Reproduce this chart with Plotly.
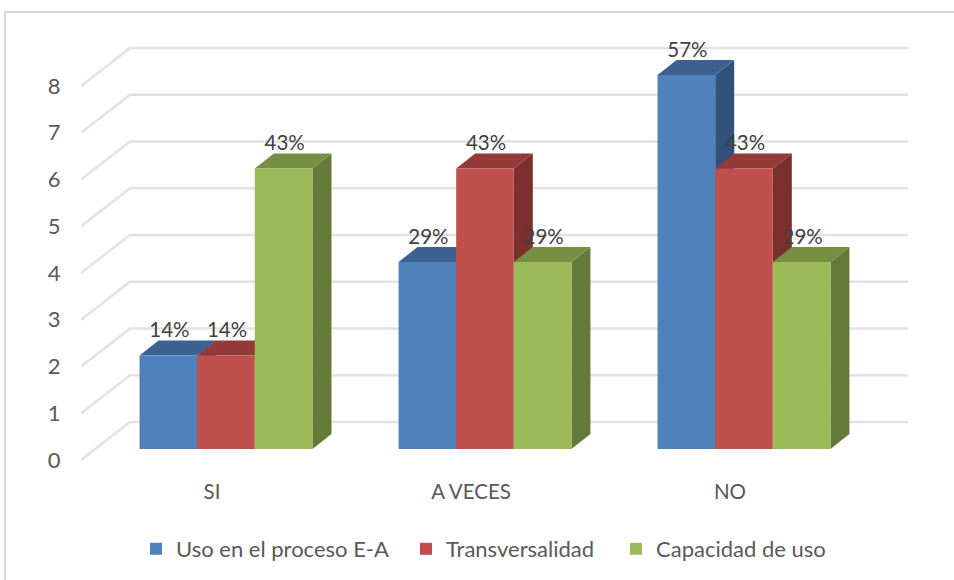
import plotly.graph_objects as go

categories = ["SI", "A VECES", "NO"]
series_names = ["Uso en el proceso E-A", "Transversalidad", "Capacidad de uso"]
uso_values = [2, 4, 8]
transversalidad_values = [2, 6, 6]
capacidad_values = [6, 4, 4]
uso_labels = ["14%", "29%", "57%"]
transversalidad_labels = ["14%", "43%", "43%"]
capacidad_labels = ["43%", "29%", "29%"]
y_ticks = [0, 1, 2, 3, 4, 5, 6, 7, 8]

values = [uso_values, transversalidad_values, capacidad_values]
labels = [uso_labels, transversalidad_labels, capacidad_labels]
front_colors = ["#4f81bd", "#c0504d", "#9bbb59"]
top_colors = ["#3b6291", "#943a38", "#778f43"]
side_colors = ["#30517b", "#7b302e", "#647a38"]

W, H = 954, 580
LEFT, RIGHT, TOP, BOTTOM = 81, 908, 30, 469
CAT_PX = 259.0
CAT0_PX = 226.0
UNIT_PX = 46.75
FLOOR_LABEL_PX = 460
FLOOR_BAR_PX = 449
BAR_UNITS = 0.2225
DEPTH_X = 19 / CAT_PX
DEPTH_Y = 15 / UNIT_PX
WALL_X = 49 / CAT_PX
WALL_Y = 38 / UNIT_PX
LABEL_SHIFT = 14 / CAT_PX
TEXT_FONT = "Lato"

x_lo = (LEFT - CAT0_PX) / CAT_PX
x_hi = (RIGHT - CAT0_PX) / CAT_PX
y1_range = [(FLOOR_LABEL_PX - BOTTOM) / UNIT_PX, (FLOOR_LABEL_PX - TOP) / UNIT_PX]
y2_range = [(FLOOR_BAR_PX - BOTTOM) / UNIT_PX, (FLOOR_BAR_PX - TOP) / UNIT_PX]
positions = list(range(len(categories)))

shapes = [dict(type="rect", xref="paper", yref="paper",
               x0=5 / W, x1=1.02, y0=-0.02, y1=1 - 12 / H,
               line=dict(color="#d9d9d9", width=2), layer="below")]

# Back wall grid and side-wall diagonals
for t in y_ticks:
    shapes.append(dict(
        type="path", xref="x", yref="y", layer="below",
        path=f"M {x_lo},{t} L {x_lo + WALL_X},{t + WALL_Y} L {x_hi},{t + WALL_Y}",
        line=dict(color="#e2e2e2", width=2.5)))

# Depth faces of each column, drawn behind the front faces
for c in positions:
    for s in range(len(values)):
        v = values[s][c]
        x0 = c + (s - 1.5) * BAR_UNITS
        x1 = x0 + BAR_UNITS
        shapes.append(dict(
            type="path", xref="x", yref="y2", layer="below",
            path=f"M {x1},0 L {x1 + DEPTH_X},{DEPTH_Y} L {x1 + DEPTH_X},{v + DEPTH_Y} L {x1},{v} Z",
            fillcolor=side_colors[s], line=dict(width=0)))
        shapes.append(dict(
            type="path", xref="x", yref="y2", layer="below",
            path=f"M {x0},{v} L {x0 + DEPTH_X},{v + DEPTH_Y} L {x1 + DEPTH_X},{v + DEPTH_Y} L {x1},{v} Z",
            fillcolor=top_colors[s], line=dict(width=0)))

fig = go.Figure()
legend_ids = ["legend", "legend2", "legend3"]
for s, name in enumerate(series_names):
    fig.add_trace(go.Bar(
        x=positions, y=values[s], name=name, yaxis="y2",
        marker=dict(color=front_colors[s], line=dict(width=0)),
        legend=legend_ids[s]))

# Data labels
for s in range(len(values)):
    fig.add_trace(go.Scatter(
        x=[c + (s - 1) * BAR_UNITS + 1 / CAT_PX for c in positions],
        y=[v + 23.5 / UNIT_PX for v in values[s]],
        text=labels[s], mode="text", textposition="middle center",
        textfont=dict(family=TEXT_FONT, size=20.5, color="#404040"),
        yaxis="y2", showlegend=False, hoverinfo="skip"))

legend_font = dict(family=TEXT_FONT, size=22, color="#595959")
legend_common = dict(orientation="h", yanchor="bottom", xanchor="left",
                     y=1 - 570 / H, font=legend_font,
                     bgcolor="rgba(0,0,0,0)", itemclick=False, itemdoubleclick=False)

fig.update_layout(
    width=W, height=H,
    margin=dict(l=0, r=0, t=0, b=0),
    paper_bgcolor="white", plot_bgcolor="rgba(0,0,0,0)",
    barmode="group", bargap=1 - 3 * BAR_UNITS, bargroupgap=0,
    shapes=shapes,
    showlegend=True,
    legend=dict(x=136 / W, **legend_common),
    legend2=dict(x=406 / W, **legend_common),
    legend3=dict(x=616 / W, **legend_common),
    xaxis=dict(domain=[LEFT / W, RIGHT / W], range=[x_lo, x_hi], automargin=False,
               tickmode="array", tickvals=[p - LABEL_SHIFT for p in positions], ticktext=categories,
               showgrid=False, zeroline=False, showline=False,
               ticks="outside", ticklen=4, tickcolor="rgba(0,0,0,0)",
               tickfont=dict(family=TEXT_FONT, size=20.5, color="#595959")),
    yaxis=dict(domain=[1 - BOTTOM / H, 1 - TOP / H], range=y1_range, automargin=False,
               tickmode="array", tickvals=y_ticks,
               showgrid=False, zeroline=False, showline=False,
               ticks="outside", ticklen=15, tickcolor="rgba(0,0,0,0)",
               tickfont=dict(family=TEXT_FONT, size=22, color="#595959")),
    yaxis2=dict(domain=[1 - BOTTOM / H, 1 - TOP / H], range=y2_range, automargin=False,
                overlaying="y", side="right", visible=False),
)

fig.write_html("out.html", config=dict(displayModeBar=False),
               post_script="document.body.style.margin='0';")
